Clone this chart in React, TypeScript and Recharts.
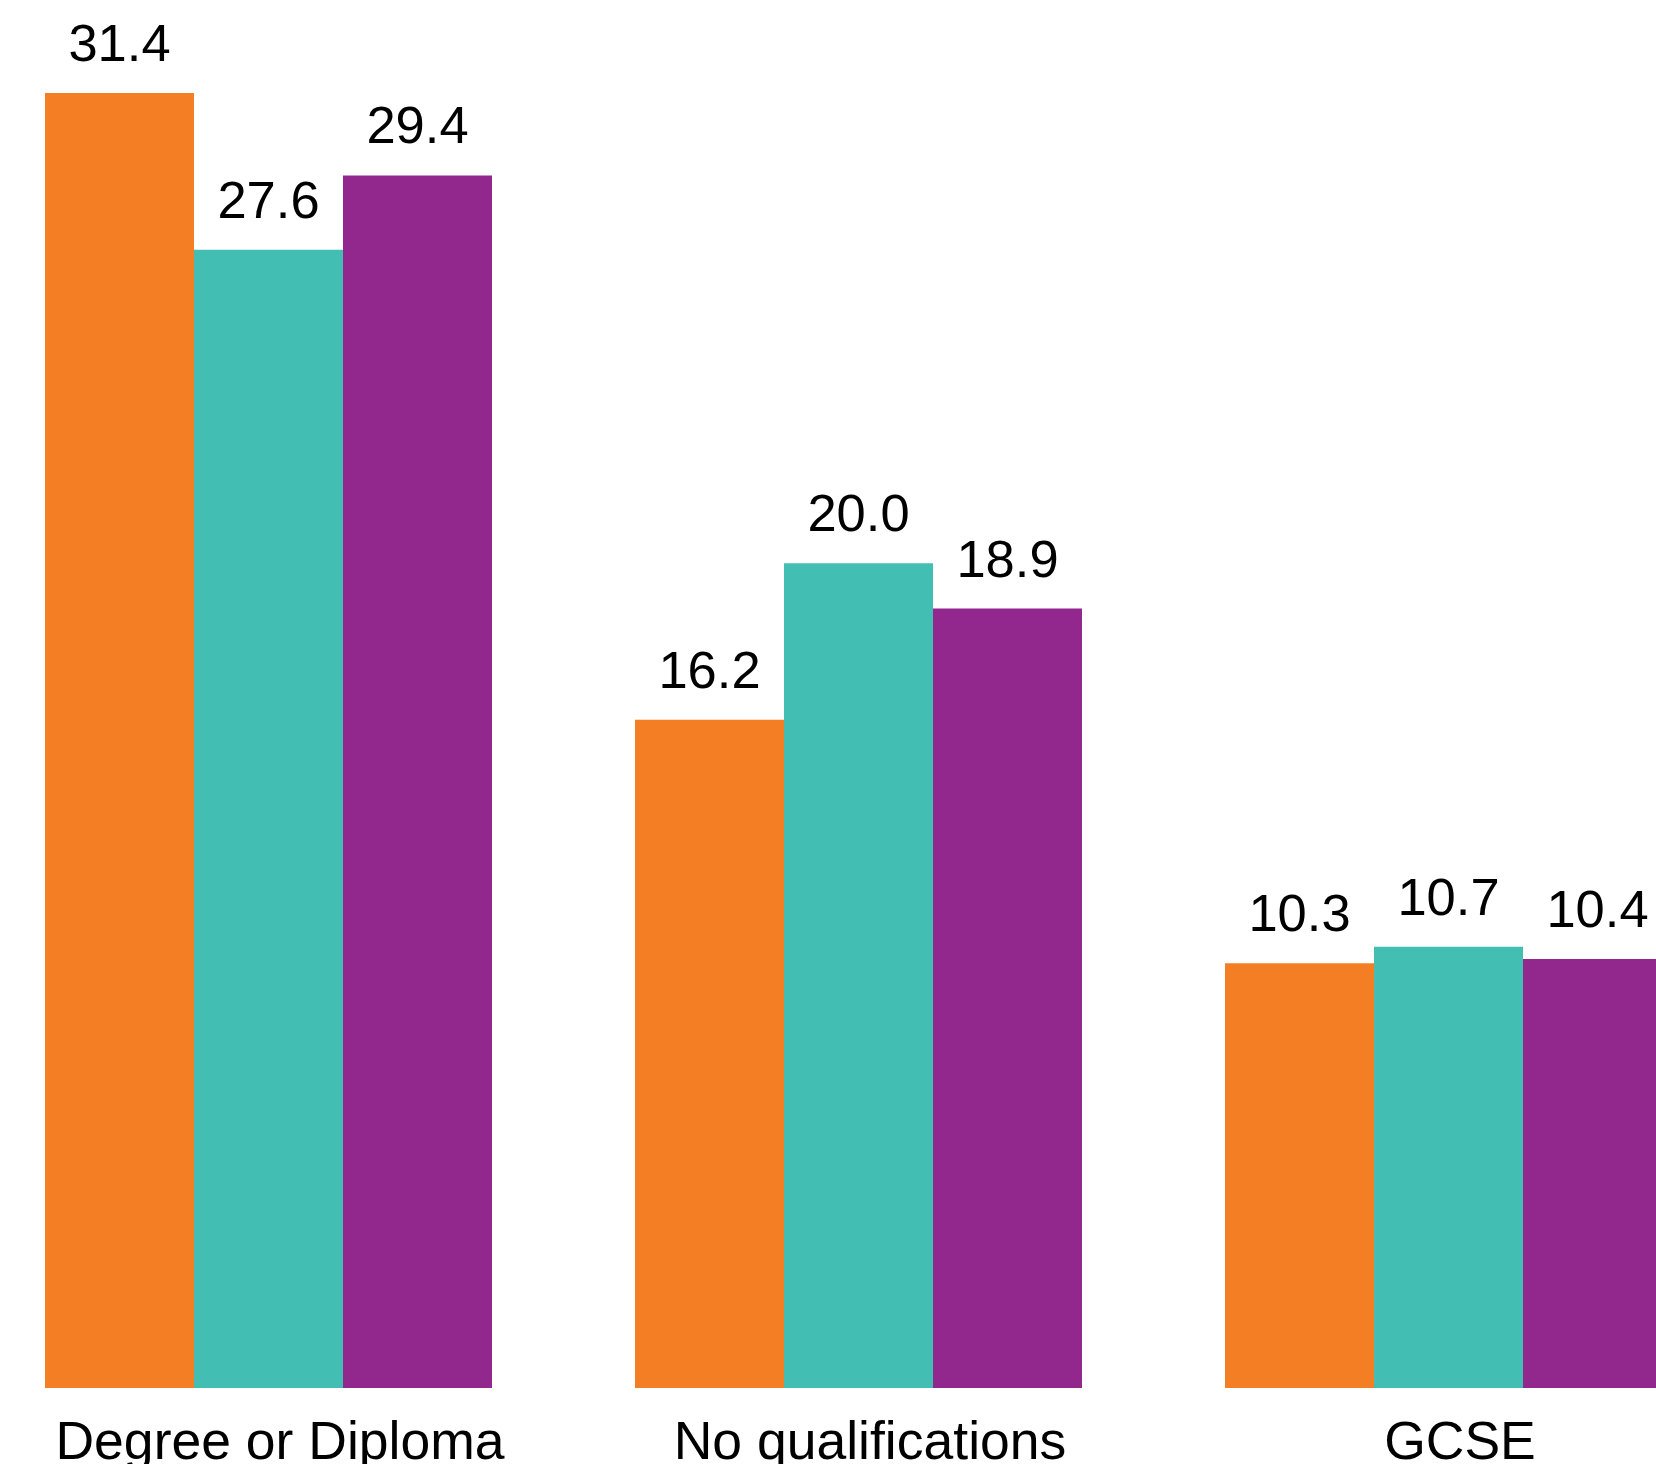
import React from "react";
import { BarChart, Bar, XAxis, YAxis, LabelList } from "recharts";

const categories = ["Degree or Diploma", "No qualifications", "GCSE"];
const seriesA = [31.4, 16.2, 10.3];
const seriesB = [27.6, 20.0, 10.7];
const seriesC = [29.4, 18.9, 10.4];

const colors = {
    a: "#F47E24",
    b: "#42BEB2",
    c: "#92278E",
};

const data = categories.map((name, i) => ({
    name,
    a: seriesA[i],
    b: seriesB[i],
    c: seriesC[i],
}));

const FONT = "'Liberation Sans', Arial, sans-serif";

const formatValue = (v: any) => Number(v).toFixed(1);

const labelStyle = { fill: "#000", fontSize: 52.5, fontFamily: FONT };

const App: React.FC = () => {
    return (
        <div style={{ position: "absolute", left: 0, top: 0, width: 1656, height: 1464, overflow: "hidden", background: "#fff" }}>
            <div style={{ position: "absolute", left: -27, top: 0 }}>
                <BarChart
                    width={1770}
                    height={1464}
                    data={data}
                    margin={{ top: 27, right: 0, bottom: 0, left: 0 }}
                    barGap={0}
                >
                    <XAxis
                        dataKey="name"
                        height={76}
                        axisLine={false}
                        tickLine={false}
                        tickSize={0}
                        tickMargin={33}
                        interval={0}
                        tick={{ fill: "#000", fontSize: 53.5, fontFamily: FONT, dx: 12 }}
                    />
                    <YAxis hide domain={[0, 33]} />
                    <Bar dataKey="a" fill={colors.a} barSize={149} isAnimationActive={false}>
                        <LabelList dataKey="a" position="top" offset={32} formatter={formatValue} style={labelStyle} />
                    </Bar>
                    <Bar dataKey="b" fill={colors.b} barSize={149} isAnimationActive={false}>
                        <LabelList dataKey="b" position="top" offset={32} formatter={formatValue} style={labelStyle} />
                    </Bar>
                    <Bar dataKey="c" fill={colors.c} barSize={149} isAnimationActive={false}>
                        <LabelList dataKey="c" position="top" offset={32} formatter={formatValue} style={labelStyle} />
                    </Bar>
                </BarChart>
            </div>
        </div>
    );
};

export default App;
